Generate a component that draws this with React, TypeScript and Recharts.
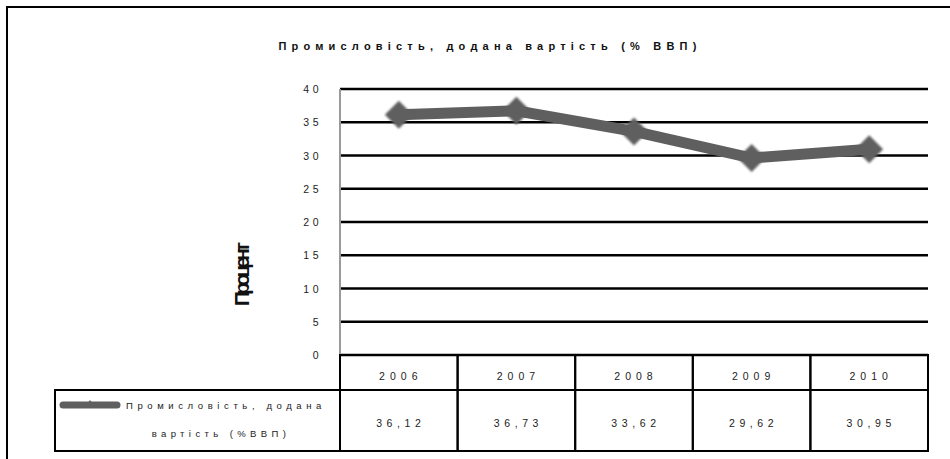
import { LineChart, Line, XAxis, YAxis, CartesianGrid } from "recharts";

const years = ["2006", "2007", "2008", "2009", "2010"];
const shareOfGdp = [36.12, 36.73, 33.62, 29.62, 30.95];
const shareLabels = ["36,12", "36,73", "33,62", "29,62", "30,95"];
const yTicks = [0, 5, 10, 15, 20, 25, 30, 35, 40];
const chartTitle = "Промисловість, додана вартість (% ВВП)";
const yAxisTitle = "Процент";
const legendLines = ["Промисловість, додана", "вартість (%ВВП)"];

const data = years.map((year, i) => ({ year, value: shareOfGdp[i], label: shareLabels[i] }));

const FONT = "'Liberation Sans', Arial, sans-serif";
const LINE_GREY = "#5f5f5f";
const COL_W = 117.6;
const PLOT_BOTTOM = 355;

function YTick(props: any) {
  const { x, y, payload } = props;
  return (
    <text x={x - 10} y={y} dy={4} textAnchor="end" fontFamily={FONT} fontSize={10.5} letterSpacing={3.5} fill="#222">
      {payload.value}
    </text>
  );
}

function TableTick(props: any) {
  const { x, payload, index } = props;
  const row = data[index];
  const left = x - COL_W / 2;
  const top = PLOT_BOTTOM;
  return (
    <g>
      <rect x={left} y={top} width={COL_W} height={35} fill="none" stroke="#000" strokeWidth={2} />
      <rect x={left} y={top + 35} width={COL_W} height={61} fill="none" stroke="#000" strokeWidth={2} />
      <text x={x + 2} y={top + 25} textAnchor="middle" fontFamily={FONT} fontSize={10.5} letterSpacing={5} fill="#222">
        {payload.value}
      </text>
      <text x={x + 2} y={top + 72} textAnchor="middle" fontFamily={FONT} fontSize={10.5} letterSpacing={4.6} fill="#222">
        {row ? row.label : ""}
      </text>
      {index === 0 && (
        <g>
          <rect x={55} y={top + 35} width={left - 55} height={61} fill="none" stroke="#000" strokeWidth={2} />
          <line x1={63} y1={top + 50} x2={117} y2={top + 50} stroke={LINE_GREY} strokeWidth={7} strokeLinecap="round" />
          <path d={`M90,${top + 45} l3,4 l-3,4 l-3,-4 Z`} fill={LINE_GREY} />
          <text x={126} y={top + 54} fontFamily={FONT} fontSize={9.5} letterSpacing={4.6} fill="#222">
            {legendLines[0]}
          </text>
          <text x={221} y={top + 82} textAnchor="middle" fontFamily={FONT} fontSize={9.5} letterSpacing={4.4} fill="#222">
            {legendLines[1]}
          </text>
        </g>
      )}
    </g>
  );
}

function Diamond(props: any) {
  const { cx, cy, index } = props;
  if (cx == null || cy == null) return null;
  const r = 14;
  return (
    <path
      key={`d-${index}`}
      d={`M${cx},${cy - r} L${cx + r},${cy} L${cx},${cy + r} L${cx - r},${cy} Z`}
      fill={LINE_GREY}
      style={{ filter: "blur(0.8px)" }}
    />
  );
}

export default function App() {
  return (
    <div style={{ position: "absolute", left: 0, top: 0, width: 950, height: 459, background: "#fff", overflow: "hidden" }}>
      <div
        style={{
          position: "absolute",
          left: 6,
          top: 6,
          width: 960,
          height: 470,
          borderLeft: "2px solid #000",
          borderTop: "2px solid #000",
        }}
      />
      <div
        style={{
          position: "absolute",
          left: 0,
          width: 980,
          top: 40,
          textAlign: "center",
          fontFamily: FONT,
          fontWeight: "bold",
          fontSize: 11,
          letterSpacing: 5.2,
          color: "#111",
        }}
      >
        {chartTitle}
      </div>
      <div
        style={{
          position: "absolute",
          left: 242,
          top: 276,
          transform: "translate(-50%, -50%) rotate(-90deg)",
          fontFamily: FONT,
          fontWeight: "bold",
          fontSize: 21,
          letterSpacing: -4,
          color: "#111",
          whiteSpace: "nowrap",
        }}
      >
        {yAxisTitle}
      </div>
      <div style={{ position: "absolute", left: 0, top: 0 }}>
        <LineChart width={950} height={459} data={data} margin={{ top: 89, right: 22, bottom: 0, left: 0 }}>
          <CartesianGrid vertical={false} stroke="#000" strokeWidth={2.5} />
          <XAxis
            dataKey="year"
            scale="band"
            height={104}
            axisLine={false}
            tickLine={false}
            interval={0}
            tick={<TableTick />}
          />
          <YAxis
            width={340}
            domain={[0, 40]}
            ticks={yTicks}
            axisLine={{ stroke: "#9a9a9a", strokeWidth: 2 }}
            tickLine={false}
            tick={<YTick />}
          />
          <Line
            type="linear"
            dataKey="value"
            stroke={LINE_GREY}
            strokeWidth={11}
            dot={<Diamond />}
            activeDot={false}
            isAnimationActive={false}
          />
        </LineChart>
      </div>
    </div>
  );
}
